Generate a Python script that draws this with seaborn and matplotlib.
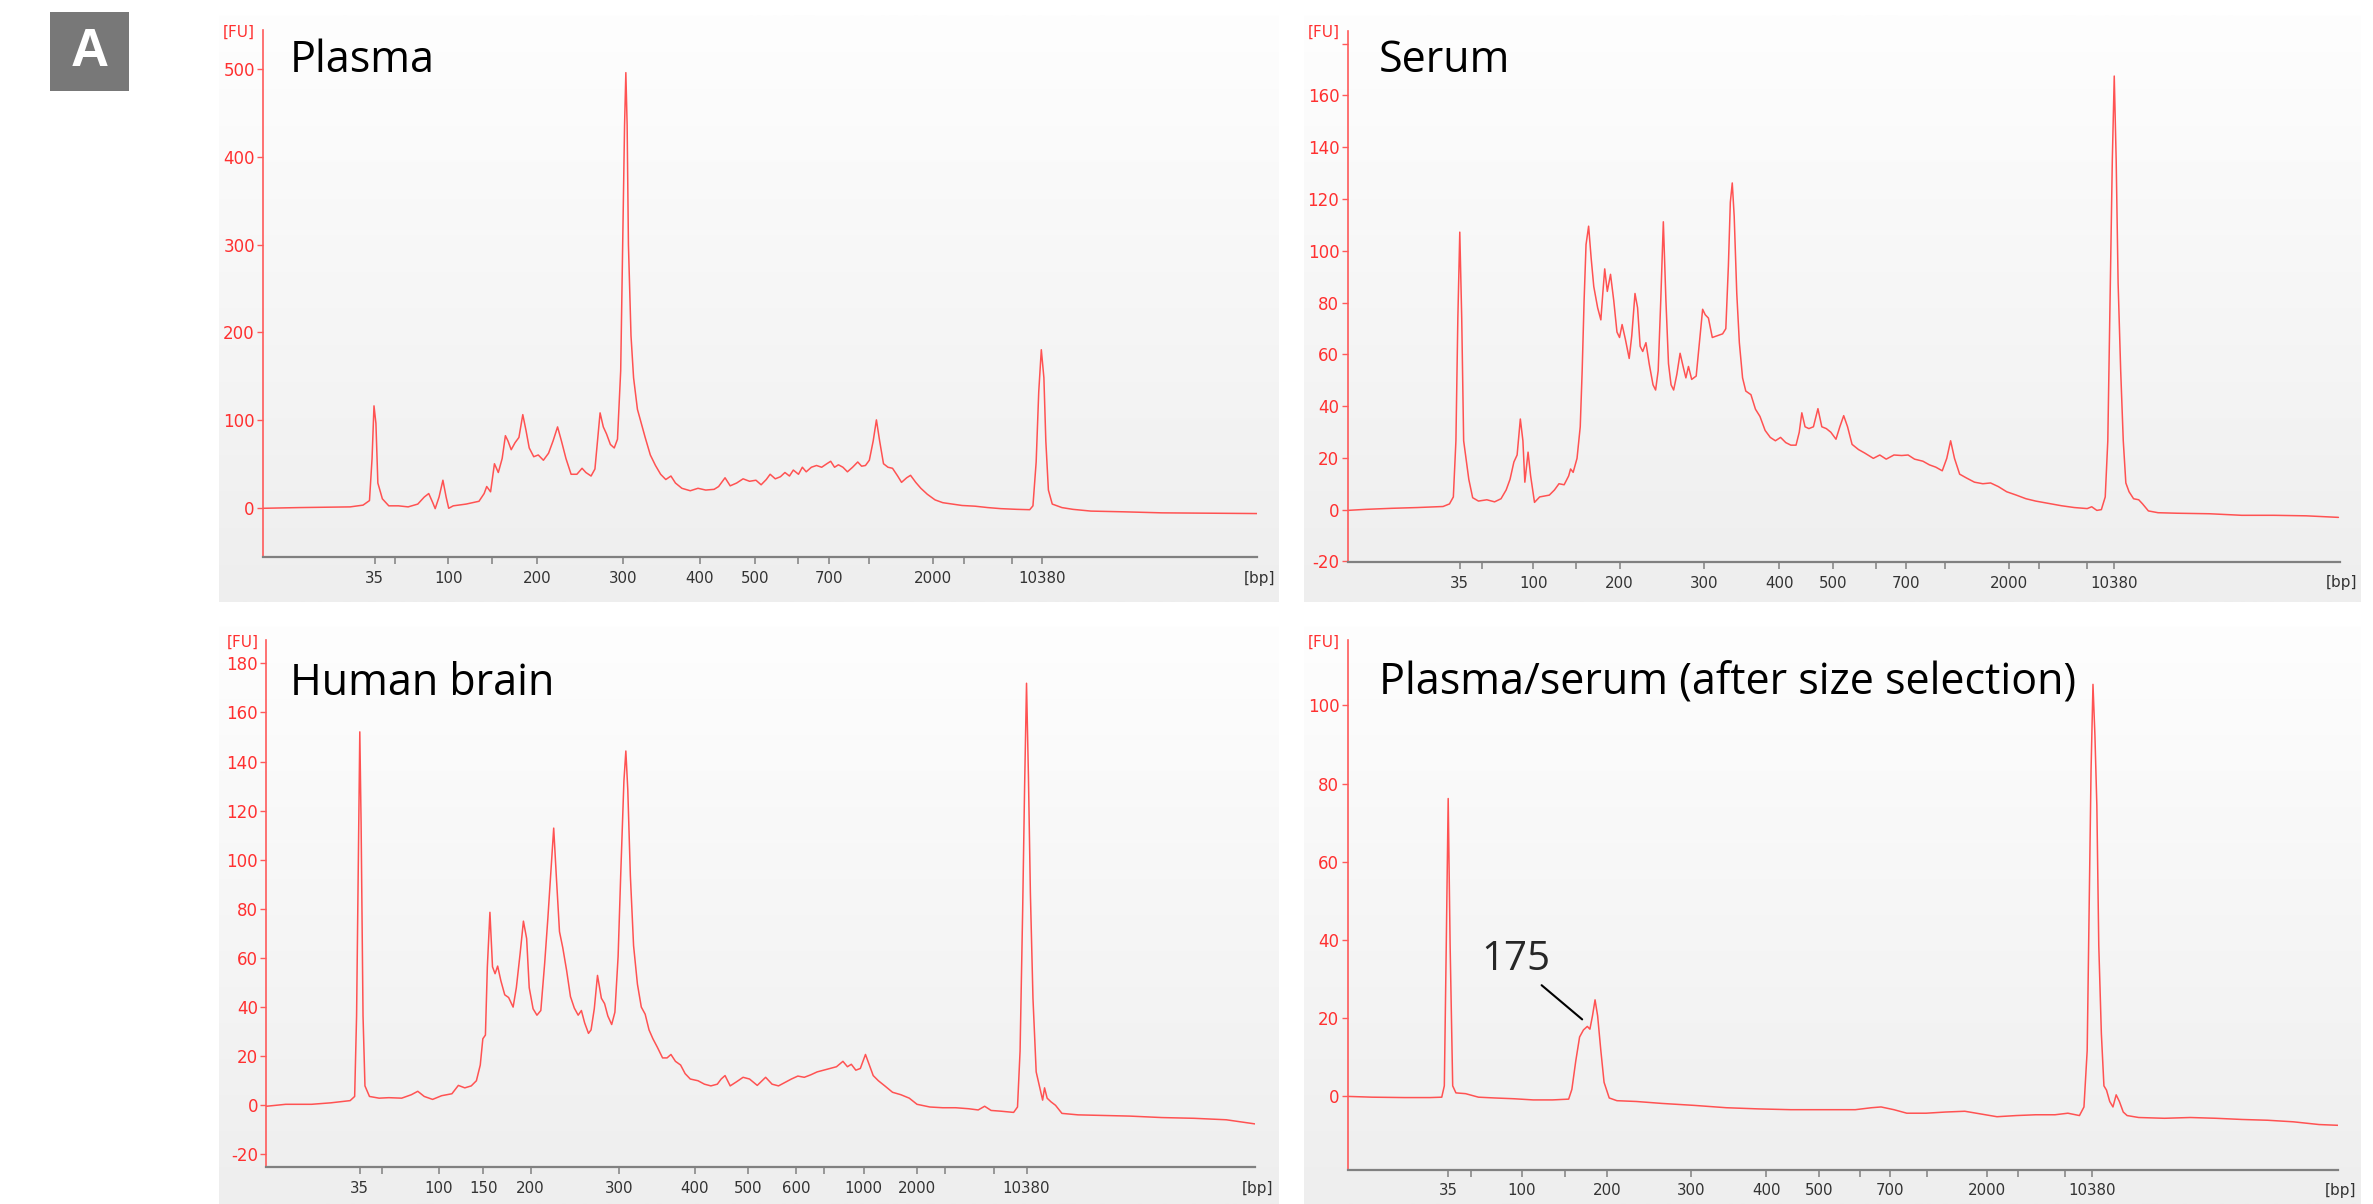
import matplotlib.pyplot as plt
import numpy as np
import pandas as pd
import seaborn as sns
from matplotlib.colors import LinearSegmentedColormap
from matplotlib.patches import Rectangle

sns.set_style("white")
plt.rcParams["font.family"] = ["DejaVu Sans"]

W, H, DPI = 2373, 1204, 100
RED = "#ff3030"
TRACE = "#ff5252"
GRAY_TXT = "#333333"
TITLE_FONT = ["Open Sans", "DejaVu Sans"]

# ladder sizes (bp) and their migration positions (arbitrary time units) per run
ladder_bp = ["35", "50", "100", "150", "200", "300", "400", "500", "600",
             "700", "1000", "2000", "3000", "7000", "10380"]
plasma_ladder_pos = [17.8, 21.0, 29.2, 36.0, 43.0, 56.3, 68.3, 76.8, 83.5, 88.4, 94.5, 104.5, 109.3, 116.8, 121.4]
serum_ladder_pos = [18.6, 22.0, 30.0, 36.7, 43.4, 56.5, 68.2, 76.6, 83.2, 87.9, 94.0, 103.8, 108.5, 116.0, 120.2]
brain_ladder_pos = [15.5, 19.0, 27.8, 34.7, 42.0, 55.8, 67.5, 75.8, 83.2, 87.6, 93.7, 102.0, 106.4, 114.0, 119.0]
sizesel_ladder_pos = [16.8, 20.3, 28.2, 34.9, 41.5, 54.5, 66.2, 74.3, 80.8, 85.4, 91.1, 100.4, 105.2, 112.6, 116.8]

plasma_labels = ["35", "100", "200", "300", "400", "500", "700", "2000", "10380"]
serum_labels = ["35", "100", "200", "300", "400", "500", "700", "2000", "10380"]
brain_labels = ["35", "100", "150", "200", "300", "400", "500", "600", "1000", "2000", "10380"]
sizesel_labels = ["35", "100", "200", "300", "400", "500", "700", "2000", "10380"]

plasma_fu_ticks = [0, 100, 200, 300, 400, 500]
serum_fu_ticks = [-20, 0, 20, 40, 60, 80, 100, 120, 140, 160, 180]
brain_fu_ticks = [-20, 0, 20, 40, 60, 80, 100, 120, 140, 160, 180]
sizesel_fu_ticks = [0, 20, 40, 60, 80, 100]

# traces: (migration time, fluorescence [FU])
plasma_trace = [
    (0.5, -0.8), (6.0, 0), (14.0, 0.8), (16.0, 2.8), (17.0, 8), (17.4, 56), (17.7, 116), (18.0, 96),
    (18.3, 28), (19.0, 10), (20.0, 2), (21.5, 2), (23.0, 0.8), (24.5, 4), (25.5, 12), (26.2, 16),
    (26.8, 6), (27.2, -1.2), (27.8, 12), (28.4, 31.2), (28.9, 12), (29.3, -0.8), (30.0, 2), (32.0, 4),
    (34.0, 7.2), (34.8, 16), (35.2, 24), (35.8, 18), (36.4, 50), (37.0, 40), (37.6, 56), (38.1, 82),
    (38.5, 76), (39.0, 66), (39.6, 74), (40.2, 80), (40.8, 106), (41.3, 88), (41.8, 68), (42.5, 58),
    (43.2, 60), (44.0, 54), (44.8, 62), (45.5, 76), (46.2, 92), (46.8, 76), (47.5, 56), (48.3, 38),
    (49.2, 38), (50.0, 44.8), (50.6, 40), (51.4, 36), (52.0, 44), (52.4, 76), (52.8, 108), (53.3, 92),
    (53.8, 84), (54.4, 72), (55.0, 68), (55.5, 78), (56.0, 156), (56.3, 296), (56.6, 436), (56.8, 496),
    (57.0, 436), (57.2, 300), (57.6, 196), (58.0, 148), (58.6, 112), (59.2, 96), (59.8, 80), (60.6, 60),
    (61.4, 48), (62.2, 38), (63.0, 32), (63.8, 36), (64.5, 28), (65.5, 22), (66.8, 19.2), (68.0, 22),
    (69.2, 20), (70.5, 20.8), (71.2, 24), (72.2, 34), (73.0, 24.8), (74.0, 28), (75.0, 32.8), (76.0, 30),
    (77.0, 31.2), (77.8, 26), (78.6, 32), (79.2, 38), (80.0, 32.8), (80.8, 35.2), (81.5, 40), (82.2, 36),
    (82.8, 42.8), (83.6, 38), (84.2, 46), (84.8, 40.8), (85.6, 46), (86.4, 48), (87.2, 46), (88.0, 50),
    (88.6, 52.8), (89.2, 46), (89.8, 48.8), (90.5, 46), (91.2, 40.8), (92.0, 46), (92.8, 52), (93.4, 47.2),
    (94.0, 48), (94.6, 54), (95.2, 76), (95.7, 100), (96.2, 76), (96.8, 50), (97.5, 46), (98.2, 44.8),
    (99.0, 36), (99.6, 28.8), (100.4, 34), (101.0, 36.8), (101.8, 28.8), (102.6, 22), (103.6, 15.2),
    (104.8, 8.8), (106.0, 5.6), (107.5, 4), (109.0, 2.4), (111.0, 1.6), (113.0, 0), (115.0, -1.2),
    (117.5, -2), (119.5, -2.4), (120.0, 2), (120.5, 52), (120.9, 132), (121.3, 180), (121.7, 148),
    (122.0, 76), (122.4, 20), (123.0, 4), (124.5, 0), (126.2, -2), (129.0, -4), (134.0, -4.8),
    (140.0, -6), (147.0, -6.4), (154.8, -6.8),
]

serum_trace = [
    (1.2, -0.3), (4.0, 0.1), (8.0, 0.5), (12.0, 0.8), (16.0, 1.2), (17.0, 2.2), (17.6, 4.9), (18.0, 26.6),
    (18.3, 74), (18.6, 107.2), (18.9, 74), (19.2, 26.6), (19.6, 19.1), (20.0, 11.7), (20.6, 4.6),
    (21.5, 3.3), (22.8, 3.8), (24.0, 3.0), (25.0, 4.2), (25.8, 7.6), (26.4, 11.7), (27.0, 18.4),
    (27.5, 21.1), (28.0, 35), (28.4, 26.6), (28.7, 10.6), (29.2, 22.2), (29.6, 13), (30.2, 2.8),
    (31.0, 4.9), (32.5, 5.6), (33.3, 7.6), (34.0, 10), (34.8, 9.6), (35.5, 13), (35.8, 15.7), (36.2, 14.4),
    (36.8, 19.8), (37.3, 32), (37.6, 53.7), (37.9, 80.8), (38.2, 102.4), (38.6, 109.5), (39.0, 97),
    (39.4, 86.2), (40.0, 78), (40.5, 73.3), (40.8, 83.5), (41.1, 93), (41.5, 84.3), (42.0, 90.9),
    (42.5, 80.8), (43.0, 68.6), (43.4, 66.5), (43.8, 71.5), (44.3, 65.9), (44.9, 58.4), (45.3, 67.2),
    (45.8, 83.5), (46.2, 78), (46.6, 63.1), (47.0, 61.1), (47.5, 64.5), (48.0, 56.4), (48.6, 48.2),
    (49.0, 46.2), (49.4, 53.7), (49.8, 80.8), (50.2, 111.2), (50.6, 80.8), (51.0, 56.4), (51.4, 48.2),
    (51.8, 46.2), (52.3, 52.3), (52.8, 60.4), (53.3, 55), (53.7, 50.9), (54.1, 55.3), (54.6, 50.3),
    (55.3, 51.6), (55.8, 64.5), (56.3, 77.4), (56.7, 75.3), (57.2, 74), (57.8, 66.5), (58.6, 67.2),
    (59.4, 67.9), (59.9, 69.9), (60.3, 94.3), (60.6, 118.7), (60.9, 126.2), (61.2, 113.3), (61.6, 83.5),
    (62.0, 64.5), (62.5, 50.9), (63.0, 45.8), (63.8, 44.4), (64.5, 38.8), (65.2, 36), (66.0, 30.6),
    (66.8, 27.9), (67.6, 26.6), (68.4, 27.9), (69.2, 25.9), (70.0, 24.9), (70.8, 24.9), (71.3, 29.9),
    (71.7, 37.4), (72.2, 32), (72.8, 31.3), (73.5, 32), (74.2, 39), (74.8, 32), (75.5, 31.3), (76.2, 29.9),
    (77.0, 27.2), (77.6, 32), (78.2, 36.3), (78.8, 32), (79.5, 25.2), (80.5, 23.2), (81.5, 21.8),
    (82.8, 19.8), (83.8, 21.1), (84.8, 19.5), (86.0, 21.1), (87.2, 20.9), (88.2, 21.1), (89.2, 19.5),
    (90.5, 18.7), (91.5, 17.3), (92.5, 16.4), (93.5, 15), (94.2, 19.8), (94.8, 26.6), (95.4, 19.8),
    (96.2, 13.7), (97.2, 12.3), (98.5, 10.6), (99.8, 10), (101.0, 10.3), (102.2, 8.9), (103.5, 6.9),
    (105.0, 5.6), (106.5, 4.2), (108.0, 3.3), (110.0, 2.4), (112.0, 1.5), (114.0, 0.8), (116.0, 0.4),
    (116.7, 1.1), (117.5, -0.3), (118.2, 0), (118.8, 4.9), (119.2, 26.6), (119.6, 87.5), (119.9, 135),
    (120.2, 167.5), (120.5, 135), (120.8, 87.5), (121.2, 53.7), (121.6, 26.6), (122.0, 10.3),
    (122.5, 6.9), (123.2, 4.2), (124.0, 3.8), (124.6, 2.2), (125.5, -0.5), (127.0, -1.2), (130.0, -1.4),
    (135.0, -1.6), (140.0, -2.2), (145.0, -2.2), (150.0, -2.4), (155.0, -3),
]

brain_trace = [
    (1.0, -0.4), (4.0, 0.4), (8.0, 0.4), (11.0, 1), (14.0, 1.9), (14.7, 3.6), (15.0, 36.4), (15.3, 107.9),
    (15.5, 152.1), (15.7, 115), (16.0, 36.4), (16.3, 7.9), (17.0, 3.6), (18.5, 2.9), (20.0, 3.1),
    (22.0, 2.9), (23.5, 4.3), (24.5, 5.7), (25.5, 3.6), (26.8, 2.4), (28.2, 3.9), (29.8, 4.7), (30.8, 8.1),
    (31.8, 7.1), (32.8, 7.9), (33.6, 10), (34.2, 16.4), (34.6, 27.1), (35.0, 28.6), (35.3, 56.4),
    (35.7, 78.6), (36.1, 56.4), (36.5, 53.6), (36.9, 56.7), (37.4, 50.7), (38.0, 45), (38.6, 43.9),
    (39.3, 40), (39.8, 47.9), (40.4, 62.1), (40.9, 75), (41.4, 67.9), (41.8, 47.9), (42.4, 39.3),
    (43.0, 36.7), (43.6, 38.6), (44.2, 57.9), (44.7, 76.4), (45.2, 96.4), (45.6, 112.9), (46.0, 93.6),
    (46.5, 70.7), (47.0, 64.3), (47.6, 55), (48.2, 44.3), (48.8, 39.6), (49.4, 36.7), (49.9, 38.6),
    (50.4, 33.6), (51.0, 29.3), (51.4, 30.7), (51.9, 39.3), (52.4, 52.9), (53.0, 43.6), (53.5, 41.4),
    (54.0, 36.4), (54.6, 32.9), (55.1, 37.9), (55.6, 60.7), (56.0, 93.6), (56.5, 132.1), (56.8, 144.3),
    (57.1, 128.6), (57.5, 93.6), (58.0, 65), (58.6, 49.3), (59.2, 40), (59.8, 37.1), (60.4, 30.7),
    (61.0, 27.1), (61.7, 23.6), (62.5, 19.3), (63.2, 19.3), (63.8, 20.7), (64.5, 17.9), (65.3, 16.4),
    (66.0, 12.9), (66.8, 10.7), (68.0, 10), (69.0, 8.6), (70.0, 7.9), (71.0, 8.6), (71.6, 10.7),
    (72.2, 12.1), (73.0, 7.9), (74.0, 9.6), (75.0, 11.4), (76.0, 10.7), (77.2, 8.1), (78.5, 11.4),
    (79.5, 8.6), (80.5, 7.9), (81.5, 9.3), (82.5, 10.7), (83.5, 11.9), (84.5, 11.4), (85.5, 12.4),
    (86.5, 13.6), (87.5, 14.3), (88.5, 15), (89.5, 15.7), (90.5, 17.9), (91.2, 15.7), (91.8, 16.7),
    (92.5, 14.3), (93.2, 15), (94.0, 20.7), (94.5, 17.1), (95.2, 12.1), (96.0, 10), (97.0, 7.9),
    (98.2, 5.3), (99.5, 4.3), (100.8, 2.9), (102.0, 0.4), (104.0, -0.7), (106.0, -1), (108.0, -1),
    (110.0, -1.4), (111.5, -1.9), (112.5, -0.4), (113.5, -2.1), (115.0, -2.4), (117.0, -2.9),
    (117.6, -0.7), (118.0, 22.1), (118.4, 79.3), (118.7, 129.3), (119.0, 171.9), (119.3, 133.6),
    (119.6, 86.4), (120.0, 43.6), (120.5, 13.6), (121.0, 7.9), (121.5, 2.1), (121.8, 7.1), (122.2, 2.9),
    (122.8, 1.4), (123.5, 0), (124.5, -3.3), (127.0, -3.9), (130.0, -4.1), (135.0, -4.4), (140.0, -5),
    (145.0, -5.3), (150.0, -5.9), (154.5, -7.6),
]

sizesel_trace = [
    (1.2, 0), (5.0, -0.2), (10.0, -0.3), (14.0, -0.3), (15.8, -0.2), (16.2, 2.7), (16.5, 38.6),
    (16.8, 76.2), (17.1, 38.6), (17.5, 2.7), (18.0, 0.9), (19.5, 0.7), (21.5, -0.2), (24.0, -0.4),
    (27.0, -0.6), (30.0, -0.9), (33.0, -0.9), (35.5, -0.7), (36.0, 1.8), (36.6, 9), (37.2, 15.2),
    (37.8, 17), (38.4, 17.9), (38.8, 17.2), (39.2, 20.6), (39.6, 24.7), (40.0, 20.6), (40.5, 11.7),
    (41.0, 3.6), (41.8, -0.4), (43.0, -1.1), (46.0, -1.3), (50.0, -1.8), (55.0, -2.3), (60.0, -2.9),
    (65.0, -3.2), (70.0, -3.4), (75.0, -3.4), (80.0, -3.4), (82.5, -2.9), (84.0, -2.7), (86.0, -3.4),
    (88.0, -4.3), (91.0, -4.3), (94.0, -4), (97.0, -3.8), (99.5, -4.5), (102.0, -5.2), (105.0, -4.9),
    (108.0, -4.7), (111.0, -4.7), (113.0, -4.3), (114.8, -4.9), (115.5, -2.7), (116.0, 11.7),
    (116.3, 47.5), (116.6, 83.4), (116.9, 105.4), (117.2, 92.4), (117.5, 74.4), (117.8, 38.6),
    (118.2, 16.1), (118.6, 2.7), (119.0, 1.6), (119.5, -1.3), (120.0, -2.7), (120.5, 0.4), (121.0, -1.3),
    (121.6, -4), (122.2, -4.9), (124.0, -5.4), (128.0, -5.6), (132.0, -5.4), (136.0, -5.6),
    (140.0, -5.9), (144.0, -6.1), (148.0, -6.5), (152.0, -7.2), (155.0, -7.4),
]

# annotated fragment in the size-selected sample
peak_label = "175"
peak_at = (37.6, 19.7)

panels = [
    dict(title="Plasma", trace=plasma_trace, pos=plasma_ladder_pos, labels=plasma_labels,
         yticks=plasma_fu_ticks, hide_y=[],
         box=(263.2, 30.0, 1257.1, 557.4), xlim=(0.5, 154.8), ylim=(-56.8, 544.6),
         bg=(219, 15, 1279, 602), title_xy=(290, 72)),
    dict(title="Serum", trace=serum_trace, pos=serum_ladder_pos, labels=serum_labels,
         yticks=serum_fu_ticks, hide_y=[180],
         box=(1347.7, 30.5, 2339.7, 561.9), xlim=(1.2, 155.2), ylim=(-20.2, 185.1),
         bg=(1304, 15, 2361, 602), title_xy=(1379, 72)),
    dict(title="Human brain", trace=brain_trace, pos=brain_ladder_pos, labels=brain_labels,
         yticks=brain_fu_ticks, hide_y=[],
         box=(266.4, 639.8, 1255.2, 1167.4), xlim=(1.0, 154.5), ylim=(-25.3, 189.6),
         bg=(219, 626, 1279, 1204), title_xy=(290, 695)),
    dict(title="Plasma/serum (after size selection)", trace=sizesel_trace, pos=sizesel_ladder_pos,
         labels=sizesel_labels, yticks=sizesel_fu_ticks, hide_y=[],
         box=(1347.7, 639.8, 2338.4, 1169.5), xlim=(1.2, 155.0), ylim=(-18.7, 116.8),
         bg=(1304, 626, 2361, 1204), title_xy=(1379, 695)),
]


def rect(x0, y0, x1, y1):
    return [x0 / W, 1 - y1 / H, (x1 - x0) / W, (y1 - y0) / H]


fig = plt.figure(figsize=(W / DPI, H / DPI), dpi=DPI)
fade = LinearSegmentedColormap.from_list("fade", ["#fefefe", "#eeeeee"])

for p in panels:
    bg = fig.add_axes(rect(*p["bg"]))
    bg.imshow(np.linspace(0, 1, 256)[:, None], aspect="auto", cmap=fade, extent=(0, 1, 0, 1))
    bg.set_axis_off()

    ax = fig.add_axes(rect(*p["box"]))
    ax.set_facecolor("none")
    df = pd.DataFrame(p["trace"], columns=["time", "fu"])
    sns.lineplot(data=df, x="time", y="fu", ax=ax, color=TRACE, linewidth=1.1,
                 estimator=None, sort=False)
    ax.set_xlim(*p["xlim"])
    ax.set_ylim(*p["ylim"])
    ax.set_xlabel("")
    ax.set_ylabel("")

    ax.set_xticks(p["pos"])
    ax.set_xticklabels([b if b in p["labels"] else "" for b in ladder_bp])
    ax.set_yticks(p["yticks"])
    ax.set_yticklabels(["" if v in p["hide_y"] else str(v) for v in p["yticks"]])
    ax.tick_params(axis="x", bottom=True, length=5, width=1.1, color="#808080",
                   labelcolor=GRAY_TXT, labelsize=10.8, pad=5)
    ax.tick_params(axis="y", left=True, length=4.5, width=1.0, color="#ff5a5a",
                   labelcolor=RED, labelsize=12, pad=1.5)
    for side in ("top", "right"):
        ax.spines[side].set_visible(False)
    ax.spines["left"].set_color("#ff5a5a")
    ax.spines["left"].set_linewidth(1.2)
    ax.spines["bottom"].set_color("#808080")
    ax.spines["bottom"].set_linewidth(1.6)
    ax.grid(False)

    x0, y0, x1, y1 = p["box"]
    fig.text((x0 - 8) / W, 1 - (y0 + 2) / H, "[FU]", color=RED, fontsize=11,
             ha="right", va="center")
    fig.text((x1 + 2) / W, 1 - (y1 + 21) / H, "[bp]", color=GRAY_TXT, fontsize=11,
             ha="center", va="center")
    tx, ty = p["title_xy"]
    fig.text(tx / W, 1 - ty / H, p["title"], fontsize=31, family=TITLE_FONT,
             color="black", ha="left", va="baseline")

    if p["title"].startswith("Plasma/serum"):
        ax.annotate(peak_label, xy=peak_at, xytext=(22.0, 32.3), textcoords="data",
                    fontsize=29, family=TITLE_FONT, ha="left", va="baseline",
                    arrowprops=dict(arrowstyle="-", color="black", lw=1.5,
                                    relpos=(0.78, 0.0), shrinkA=2, shrinkB=0))

fig.patches.append(Rectangle((50 / W, 1 - 91 / H), 79 / W, 79 / H, transform=fig.transFigure,
                             facecolor="#787878", edgecolor="none"))
fig.text(89.5 / W, 1 - 52 / H, "A", color="white", fontsize=38, fontweight="bold",
         family=["Liberation Sans", "DejaVu Sans"], ha="center", va="center")

fig.savefig("out.png", dpi=DPI)
